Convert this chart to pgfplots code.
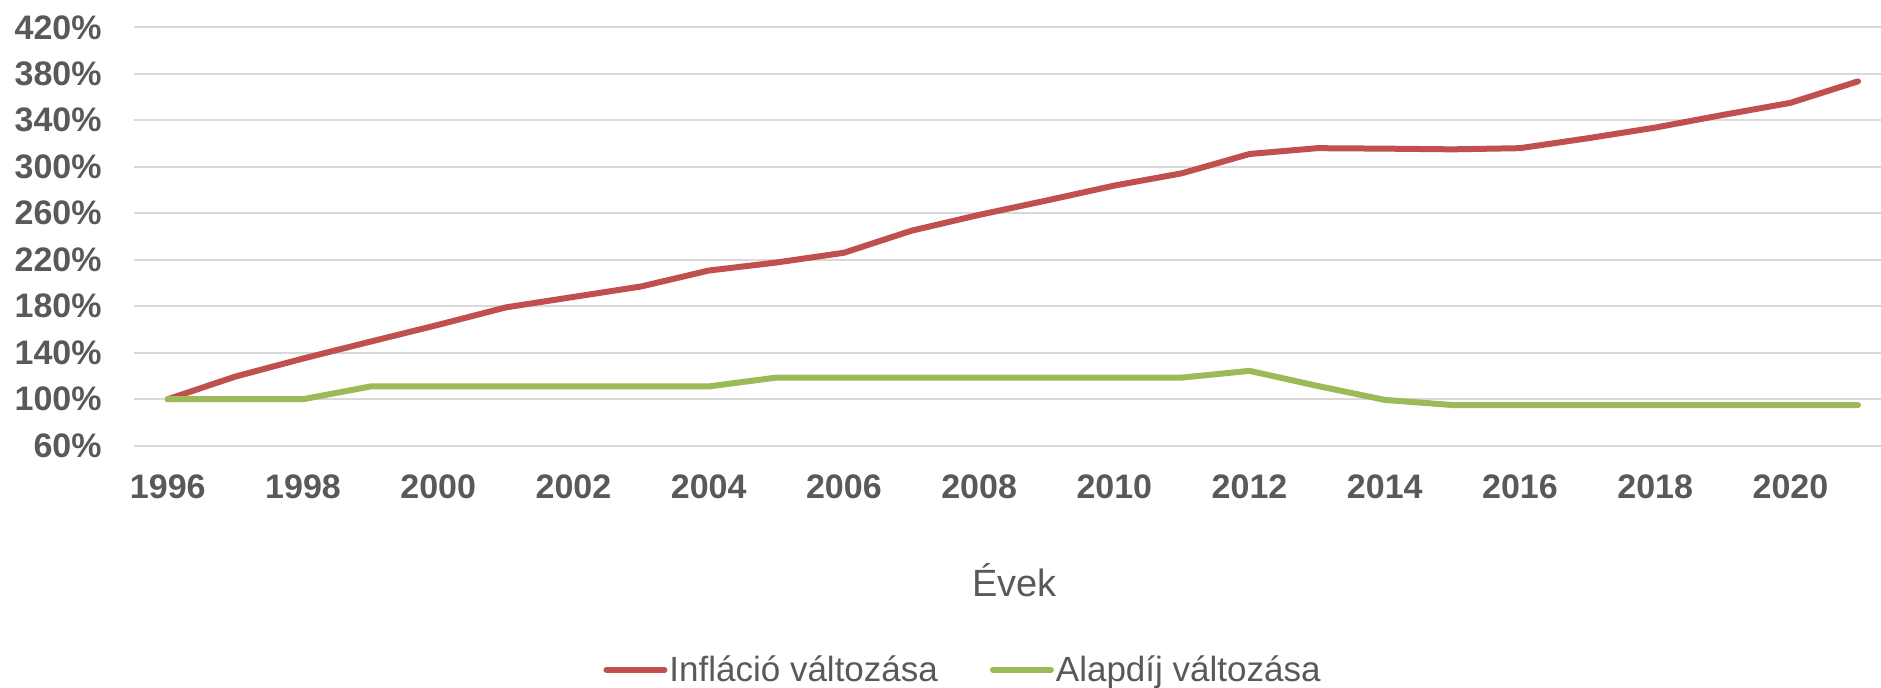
\documentclass[border=0pt]{standalone}
\usepackage{pgfplots}
\pgfplotsset{compat=1.18}
\usepackage{fontspec}
\setmainfont{Liberation Sans}
\definecolor{infl}{HTML}{C0504D}
\definecolor{alap}{HTML}{9BBB59}
\definecolor{txt}{HTML}{595959}
\definecolor{grd}{HTML}{D9D9D9}
\begin{document}
\begin{tikzpicture}
\path[use as bounding box] (0,0) rectangle (940.5pt,343.5pt);
\begin{axis}[
  at={(67pt,120.65pt)}, anchor=south west,
  scale only axis, width=873.5pt, height=209.2pt,
  xmin=1995.5, xmax=2021.34, ymin=60, ymax=420,
  xtick={1996,1998,...,2020}, ytick={60,100,...,420},
  xticklabel={\pgfmathprintnumber[1000 sep={}]{\tick}},
  yticklabel={\pgfmathprintnumber{\tick}\%},
  /pgf/number format/assume math mode=true,
  axis line style={draw=none}, major tick length=0pt,
  ymajorgrids, major grid style={color=grd, line width=0.9pt},
  ticklabel style={font=\bfseries\fontsize{17}{17}\selectfont, text=txt},
  yticklabel style={anchor=east, inner sep=0pt, xshift=-16pt},
  xticklabel style={anchor=north, inner sep=0pt, yshift=-14.5pt},
  clip=false,
  legend columns=2,
  legend style={draw=none, fill=none, inner sep=0pt, at={(0.2685,-0.536)}, anchor=west,
    font=\fontsize{17.5}{17.5}\selectfont, text=txt,
    nodes={inner sep=1pt},
    /tikz/every even column/.append style={column sep=25pt}},
  legend image code/.code={\draw[#1, line width=3pt, line cap=round] (0pt,0pt) -- (29pt,0pt);},
]
\addplot[color=infl, line width=3pt, line join=round, line cap=round] coordinates {
(1996,100) (1997,119.5) (1998,135) (1999,149.6) (2000,164) (2001,179) (2002,188)
(2003,197) (2004,210.7) (2005,217.6) (2006,226) (2007,245) (2008,258.6) (2009,271)
(2010,283.8) (2011,294.4) (2012,311) (2013,316) (2014,315.6) (2015,315) (2016,316)
(2017,324.5) (2018,333.7) (2019,344.6) (2020,355) (2021,373.5)};
\addlegendentry{Infláció változása}
\addplot[color=alap, line width=3pt, line join=round, line cap=round] coordinates {
(1996,100) (1997,100) (1998,100) (1999,111) (2000,111) (2001,111) (2002,111)
(2003,111) (2004,111) (2005,118.6) (2006,118.6) (2007,118.6) (2008,118.6) (2009,118.6)
(2010,118.6) (2011,118.6) (2012,124.4) (2013,111.5) (2014,99.4) (2015,95) (2016,95)
(2017,95) (2018,95) (2019,95) (2020,95) (2021,95)};
\addlegendentry{Alapdíj változása}
\node[anchor=base, text=txt, font=\fontsize{19}{19}\selectfont] at ([yshift=-75.5pt]rel axis cs:0.504,0) {Évek};
\end{axis}
\end{tikzpicture}
\end{document}
